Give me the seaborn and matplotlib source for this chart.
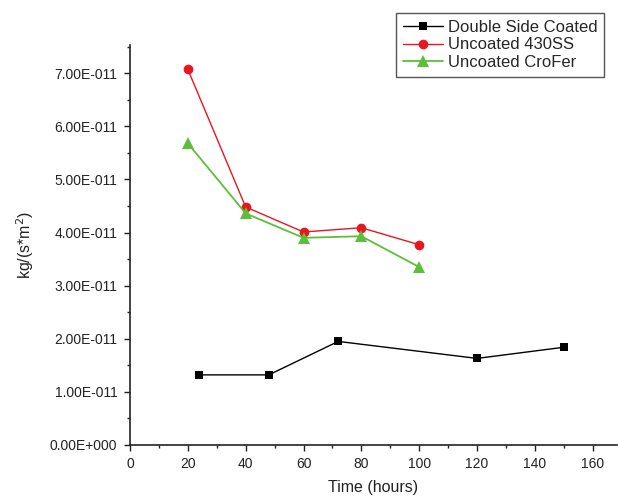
import pandas as pd
import matplotlib
matplotlib.use("Agg")
import matplotlib.pyplot as plt
from matplotlib.ticker import FuncFormatter, MultipleLocator
import seaborn as sns

# Данные
coated_time = [24, 48, 72, 120, 150]
coated_rate = [1.32e-11, 1.32e-11, 1.95e-11, 1.63e-11, 1.84e-11]

ss430_time = [20, 40, 60, 80, 100]
ss430_rate = [7.07e-11, 4.48e-11, 4.01e-11, 4.09e-11, 3.77e-11]

crofer_time = [20, 40, 60, 80, 100]
crofer_rate = [5.68e-11, 4.36e-11, 3.90e-11, 3.93e-11, 3.35e-11]

sns.set_style("ticks")
plt.rcParams['font.family'] = ['Liberation Sans', 'DejaVu Sans']

fig = plt.figure(figsize=(6.18, 5.0), dpi=100)
ax = fig.add_axes([130 / 618, 55 / 500, 487 / 618, 400 / 500])

sns.lineplot(x=coated_time, y=coated_rate, ax=ax, color='black', linewidth=1.0,
             marker='s', markersize=6, markeredgewidth=0, label='Double Side Coated')
sns.lineplot(x=ss430_time, y=ss430_rate, ax=ax, color='#e8161e', linewidth=1.0,
             marker='o', markersize=7, markeredgewidth=0, label='Uncoated 430SS')
sns.lineplot(x=crofer_time, y=crofer_rate, ax=ax, color='#5cbf3a', linewidth=1.3,
             marker='^', markersize=8, markeredgewidth=0, label='Uncoated CroFer')

ax.set_xlim(0, 168.4)
ax.set_ylim(0, 7.53e-11)
ax.xaxis.set_major_locator(MultipleLocator(20))
ax.xaxis.set_minor_locator(MultipleLocator(10))
ax.yaxis.set_major_locator(MultipleLocator(1e-11))
ax.yaxis.set_minor_locator(MultipleLocator(0.5e-11))


def sci_fmt(v, pos):
    if abs(v) < 1e-15:
        return "0.00E+000"
    return f"{v / 1e-11:.2f}E-011"


ax.yaxis.set_major_formatter(FuncFormatter(sci_fmt))
ax.tick_params(axis='both', which='major', direction='out', length=4, width=1,
               labelsize=10, color='#222222', labelcolor='#222222', pad=5)
ax.tick_params(axis='both', which='minor', direction='out', length=2.5, width=1,
               color='#222222')

for side in ['top', 'right']:
    ax.spines[side].set_visible(False)
for side in ['left', 'bottom']:
    ax.spines[side].set_linewidth(1.2)
    ax.spines[side].set_color('#222222')

ax.set_xlabel('Time (hours)', fontsize=11.5, color='#222222', labelpad=6)
ax.set_ylabel('kg/(s*m$^2$)', fontsize=11.5, color='#222222', labelpad=10)

leg = ax.legend(loc='upper right', bbox_to_anchor=(0.99, 1.1), fontsize=12,
                frameon=True, fancybox=False, edgecolor='#555555', framealpha=1,
                handlelength=2.4, handletextpad=0.3, borderpad=0.4, labelspacing=0.15)
leg.get_frame().set_linewidth(1.0)

fig.savefig("out.png", dpi=100)
plt.close(fig)
